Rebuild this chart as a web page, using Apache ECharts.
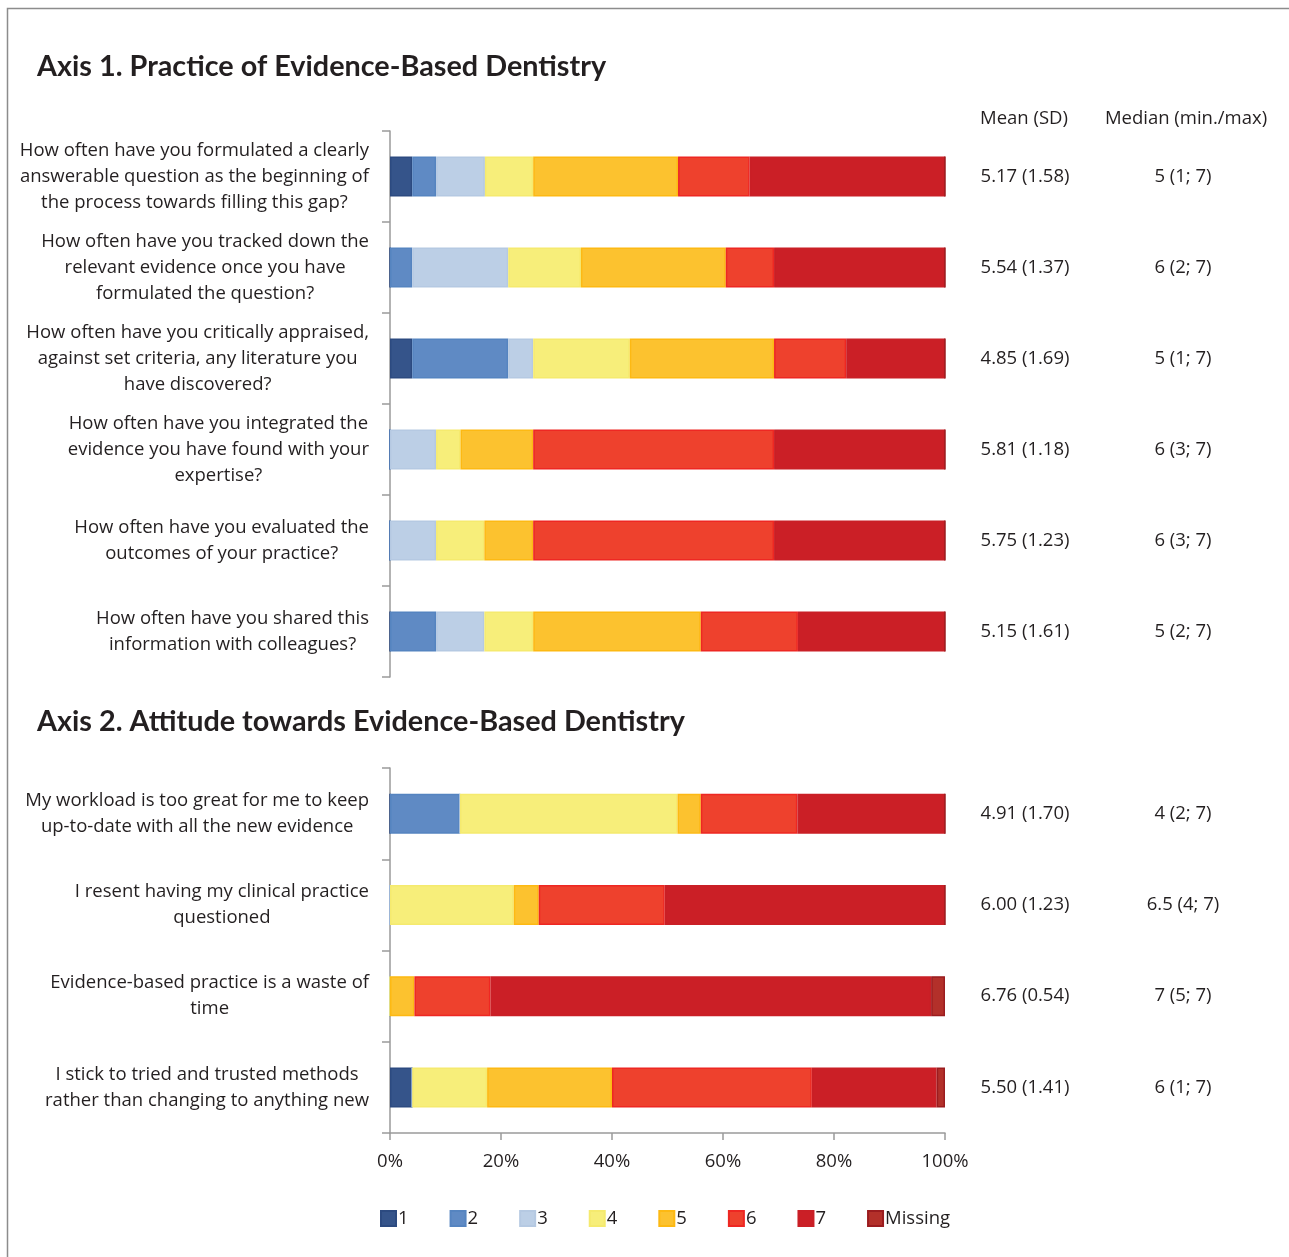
<!DOCTYPE html>
<html>
<head>
<meta charset="utf-8">
<script src="https://cdn.jsdelivr.net/npm/echarts@6/dist/echarts.min.js"></script>
<style>
html,body{margin:0;padding:0;background:#fff;}
#chart{width:1289px;height:1257px;}
</style>
</head>
<body>
<div id="chart"></div>
<script>
// ---- Data ----
const seriesNames = ['1', '2', '3', '4', '5', '6', '7', 'Missing'];

const axis1Questions = [
  'How often have you formulated a clearly\nanswerable question as the beginning of\nthe process towards filling this gap?',
  'How often have you tracked down the\nrelevant evidence once you have\nformulated the question?',
  'How often have you critically appraised,\nagainst set criteria, any literature you\nhave discovered?',
  'How often have you integrated the\nevidence you have found with your\nexpertise?',
  'How often have you evaluated the\noutcomes of your practice?',
  'How often have you shared this\ninformation with colleagues?'
];
const axis1Means = ['5.17 (1.58)', '5.54 (1.37)', '4.85 (1.69)', '5.81 (1.18)', '5.75 (1.23)', '5.15 (1.61)'];
const axis1Medians = ['5 (1; 7)', '6 (2; 7)', '5 (1; 7)', '6 (3; 7)', '6 (3; 7)', '5 (2; 7)'];
// percentages per response level (rows = questions), order: 1..7, Missing
const axis1Values = [
  [4.0, 4.3, 8.8, 8.7, 26.1, 12.9, 35.2, 0],
  [0, 4.0, 17.3, 13.1, 26.1, 8.7, 30.8, 0],
  [4.0, 17.3, 4.5, 17.4, 26.0, 13.0, 17.8, 0],
  [0, 0, 8.3, 4.4, 13.1, 43.4, 30.8, 0],
  [0, 0, 8.3, 8.7, 8.8, 43.4, 30.8, 0],
  [0, 8.3, 8.7, 8.8, 30.2, 17.5, 26.5, 0]
];

const axis2Questions = [
  'My workload is too great for me to keep\nup-to-date with all the new evidence',
  'I resent having my clinical practice\nquestioned',
  'Evidence-based practice is a waste of\ntime',
  'I stick to tried and trusted methods\nrather than changing to anything new'
];
const axis2Means = ['4.91 (1.70)', '6.00 (1.23)', '6.76 (0.54)', '5.50 (1.41)'];
const axis2Medians = ['4 (2; 7)', '6.5 (4; 7)', '7 (5; 7)', '6 (1; 7)'];
const axis2Values = [
  [0, 12.6, 0, 39.2, 4.2, 17.4, 26.6, 0],
  [0, 0, 0, 22.3, 4.5, 22.7, 50.5, 0],
  [0, 0, 0, 0, 4.4, 13.7, 79.4, 2.5],
  [4.0, 0, 0, 13.5, 22.5, 36.0, 22.5, 1.5]
];

const xTicks = [0, 20, 40, 60, 80, 100];

// ---- Styles ----
const fills = ['#35548a', '#5f8ac4', '#bccfe6', '#f7ee7a', '#fcc22f', '#ee412d', '#cb1f26', '#b3302a'];
const borders = ['#2c4a80', '#5584c0', '#b5c9e2', '#f5ea6e', '#fdb913', '#ee2722', '#c91f26', '#9b1c1f'];
const textColor = '#231f20';
const FONT = '"Open Sans"';
const FS = 18.5;

function labelRich(text) {
  return text.split('\n').map(l => '{c|' + l + '}').join('\n');
}

function leftAxis(gridIndex, data) {
  return {
    type: 'category', gridIndex: gridIndex, data: data, inverse: true, position: 'left',
    axisLine: {show: true, lineStyle: {color: '#9a9a9a', width: 1.5}},
    axisTick: {show: true, length: 8, lineStyle: {color: '#9a9a9a', width: 1.5}},
    axisLabel: {
      margin: 21, align: 'right',
      formatter: v => labelRich(v),
      rich: {c: {align: 'center', fontFamily: FONT, fontSize: FS, lineHeight: 26, color: textColor}}
    }
  };
}
function rightAxis(gridIndex, means, medians) {
  return {
    type: 'category', gridIndex: gridIndex, data: means, inverse: true, position: 'right',
    axisLine: {show: false}, axisTick: {show: false},
    axisLabel: {
      margin: 10, align: 'left',
      formatter: (v, i) => '{m|' + means[i] + '}{d|' + medians[i] + '}',
      rich: {
        m: {width: 140, align: 'center', fontFamily: FONT, fontSize: FS, color: textColor},
        d: {width: 176, align: 'center', fontFamily: FONT, fontSize: FS, color: textColor}
      }
    }
  };
}

const series = [];
[[axis1Values, 0], [axis2Values, 1]].forEach(([vals, g]) => {
  seriesNames.forEach((name, k) => {
    series.push({
      name: name, type: 'bar', stack: 'g' + g,
      xAxisIndex: g, yAxisIndex: g * 2,
      barWidth: 40,
      data: vals.map(r => r[k]),
      itemStyle: {color: fills[k], borderColor: borders[k], borderWidth: 1.5},
      emphasis: {disabled: true}
    });
  });
});

const chart = echarts.init(document.getElementById('chart'), null, {renderer: 'canvas'});
chart.setOption({
  animation: false,
  backgroundColor: '#ffffff',
  textStyle: {fontFamily: FONT, color: textColor},
  title: [
    {text: 'Axis 1. Practice of Evidence-Based Dentistry', left: 32, top: 47,
     textStyle: {fontFamily: 'Lato', fontWeight: 'bold', fontSize: 28.8, color: textColor}},
    {text: 'Axis 2. Attitude towards Evidence-Based Dentistry', left: 32, top: 702,
     textStyle: {fontFamily: 'Lato', fontWeight: 'bold', fontSize: 28.8, color: textColor}},
    {text: 'Mean (SD)', left: 1019, textAlign: 'center', top: 104,
     textStyle: {fontFamily: FONT, fontWeight: 'normal', fontSize: FS, color: textColor}},
    {text: 'Median (min./max)', left: 1181, textAlign: 'center', top: 104,
     textStyle: {fontFamily: FONT, fontWeight: 'normal', fontSize: FS, color: textColor}}
  ],
  graphic: [{
    type: 'rect', shape: {x: 7.5, y: 8.5, width: 1300, height: 1300},
    style: {fill: null, stroke: '#8c8c8c', lineWidth: 1.5}, silent: true, z: -1
  }],
  legend: {
    data: seriesNames, left: 375, top: 1204, itemWidth: 15, itemHeight: 15, itemGap: 41,
    icon: 'rect',
    textStyle: {fontFamily: FONT, fontSize: FS, color: textColor, padding: [0,0,0,-3]},
    selectedMode: false
  },
  grid: [
    {left: 390, right: 344, top: 131, height: 546, containLabel: false},
    {left: 390, right: 344, top: 768, height: 365, containLabel: false}
  ],
  xAxis: [
    {type: 'value', gridIndex: 0, min: 0, max: 100, interval: 20, show: false},
    {type: 'value', gridIndex: 1, min: 0, max: 100, interval: 20,
     axisLine: {show: true, lineStyle: {color: '#9a9a9a', width: 1.5}},
     axisTick: {show: true, length: 7, lineStyle: {color: '#9a9a9a', width: 1.5}},
     splitLine: {show: false},
     axisLabel: {margin: 19, fontFamily: FONT, fontSize: FS, color: textColor,
       formatter: v => xTicks.indexOf(v) >= 0 ? v + '%' : ''}}
  ],
  yAxis: [
    leftAxis(0, axis1Questions), rightAxis(0, axis1Means, axis1Medians),
    leftAxis(1, axis2Questions), rightAxis(1, axis2Means, axis2Medians)
  ],
  series: series
});
</script>
</body>
</html>
